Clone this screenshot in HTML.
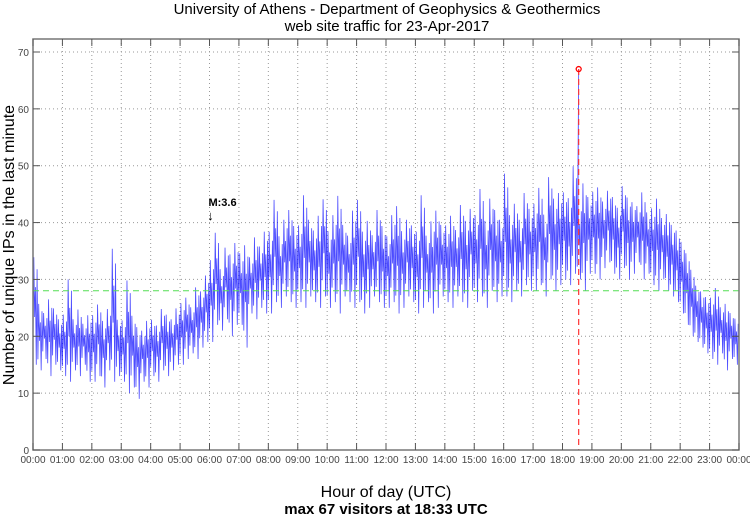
<!DOCTYPE html>
<html><head><meta charset="utf-8"><style>
body{margin:0;background:#fff;}
svg{display:block;font-family:"Liberation Sans",sans-serif;}
</style></head><body>
<svg id="chart" width="750" height="515">
<rect x="0" y="0" width="750" height="515" fill="#fff"/>
<text x="387" y="14" font-size="15" text-anchor="middle">University of Athens - Department of Geophysics &amp; Geothermics</text>
<text x="387" y="31" font-size="15" text-anchor="middle">web site traffic for 23-Apr-2017</text>
<text transform="translate(14,245) rotate(-90)" font-size="16" text-anchor="middle">Number of unique IPs in the last minute</text>
<text x="386" y="497" font-size="16" text-anchor="middle">Hour of day (UTC)</text>
<text x="386" y="514" font-size="15" text-anchor="middle" font-weight="bold">max 67 visitors at 18:33 UTC</text>
<g id="grid"></g><g id="series"></g><g id="axes"></g>
</svg>
<script>
const hourLabels=["00:00","01:00","02:00","03:00","04:00","05:00","06:00","07:00","08:00","09:00","10:00","11:00","12:00","13:00","14:00","15:00","16:00","17:00","18:00","19:00","20:00","21:00","22:00","23:00","00:00"];
const yTicks=[0,10,20,30,40,50,60,70];
const binLow=[15,14,16,13,15,14, 13,12,14,13,15,12, 12,13,11,14,12,13, 12,10,11,9,12,11, 13,12,14,13,14,15, 15,16,17,16,18,19, 19,22,21,23,20,22, 22,18,24,23,25,24, 24,26,25,27,26,25, 26,25,27,26,25,27, 25,26,24,27,26,25, 26,24,25,27,26,25, 25,26,24,25,27,26, 24,25,26,24,25,27, 26,25,27,26,25,28, 26,27,25,28,26,27, 27,26,28,27,29,28, 28,29,27,30,28,29, 30,29,31,30,28,31, 31,30,32,33,31,30, 32,30,31,33,30,31, 29,28,30,28,27,26, 24,22,20,19,18,17, 16,15,17,14,16,15];
const binHigh=[36,27,25,28,26,24, 25,32,24,26,23,25, 25,27,24,26,38,24, 24,32,25,23,22,24, 24,23,26,25,24,26, 27,28,26,30,29,32, 35,40,33,37,36,38, 36,38,35,39,37,40, 40,46,39,42,44,41, 41,47,42,40,43,46, 40,43,47,41,39,44, 46,40,42,39,44,41, 39,43,45,40,42,41, 40,47,39,42,44,41, 41,43,40,45,42,44, 43,48,42,46,44,42, 51,43,45,42,47,44, 45,48,43,50,46,47, 47,46,52,45,49,46, 47,48,45,47,46,44, 48,46,45,44,47,43, 44,46,42,43,41,40, 38,36,33,30,29,28, 28,30,26,27,25,24];
const maxMinute=[18*60+33];
const maxValue=[67];
const meanValue=[28];
const quake=[{min:6*60+2,label:"M:3.6"}];

const X0=33,X1=739,Y0=450,Y70=52;
const xs=m=>X0+(X1-X0)*m/1440;
const ys=v=>Y0+(Y70-Y0)*v/70;
const NS="http://www.w3.org/2000/svg";
function mk(tag,attrs,parent){const e=document.createElementNS(NS,tag);for(const k in attrs)e.setAttribute(k,attrs[k]);parent.appendChild(e);return e;}
const grid=document.getElementById('grid'),axes=document.getElementById('axes'),ser=document.getElementById('series');
mk('rect',{x:X0,y:39,width:X1-X0,height:Y0-39,fill:'none',stroke:'#777','stroke-width':1.5},axes);
hourLabels.forEach((l,i)=>{const x=xs(i*60);
 if(i>0&&i<24){const g=mk('line',{x1:x,x2:x,y1:39,y2:Y0,stroke:'#999','stroke-dasharray':'1,3'},grid);}
 mk('line',{x1:x,x2:x,y1:Y0,y2:Y0-7,stroke:'#555'},axes);mk('line',{x1:x,x2:x,y1:39,y2:46,stroke:'#555'},axes);
 const t=mk('text',{x:x,y:Y0+13,'font-size':10,fill:'#444','text-anchor':'middle'},axes);t.textContent=l;
 });
yTicks.forEach(v=>{const y=ys(v);
 if(v>0){const g=mk('line',{x1:X0,x2:X1,y1:y,y2:y,stroke:'#999','stroke-dasharray':'1,3'},grid);}
 mk('line',{x1:X0,x2:X0+7,y1:y,y2:y,stroke:'#555'},axes);mk('line',{x1:X1-7,x2:X1,y1:y,y2:y,stroke:'#555'},axes);
 const t=mk('text',{x:X0-4,y:y+4,'font-size':10,fill:'#444','text-anchor':'end'},axes);t.textContent=v;
 });
let pts=[];
binLow.forEach((lo,i)=>{const hi=binHigh[i],m=i*10,d=hi-lo;
 const seq=[lo+d*0.15,hi-d*0.1,lo+d*0.4,hi-d*0.35,lo,hi-d*0.2];
 seq.forEach((v,k)=>{const mm=m+k*10/seq.length;
  if(mm<=maxMinute[0]&&mm+10/seq.length>maxMinute[0]){pts.push(xs(maxMinute[0])+','+ys(maxValue[0]));}
  pts.push(xs(mm)+','+ys(v));});});
const line=mk('polyline',{points:pts.join(' '),fill:'none',stroke:'#0000ff','stroke-width':0.8,'stroke-opacity':0.7},ser);

const mean=mk('line',{x1:X0,x2:X1,y1:ys(meanValue[0]),y2:ys(meanValue[0]),stroke:'#55dd55','stroke-dasharray':'6,4'},ser);

const mx=xs(maxMinute[0]);
const vl=mk('line',{x1:mx,x2:mx,y1:ys(maxValue[0]),y2:Y0,stroke:'#ff3333','stroke-dasharray':'6,4','stroke-width':1.2},ser);

const mc=mk('circle',{cx:mx,cy:ys(maxValue[0]),r:2.5,fill:'none',stroke:'#ff0000','stroke-width':1.3},ser);

quake.forEach(q=>{const x=xs(q.min);
 const t=mk('text',{x:x-2,y:206,'font-size':11,'font-weight':'bold'},ser);t.textContent=q.label;
 
 const a=mk('text',{x:x,y:220,'font-size':13,'text-anchor':'middle'},ser);a.textContent='↓';
 });
</script>
</body></html>
